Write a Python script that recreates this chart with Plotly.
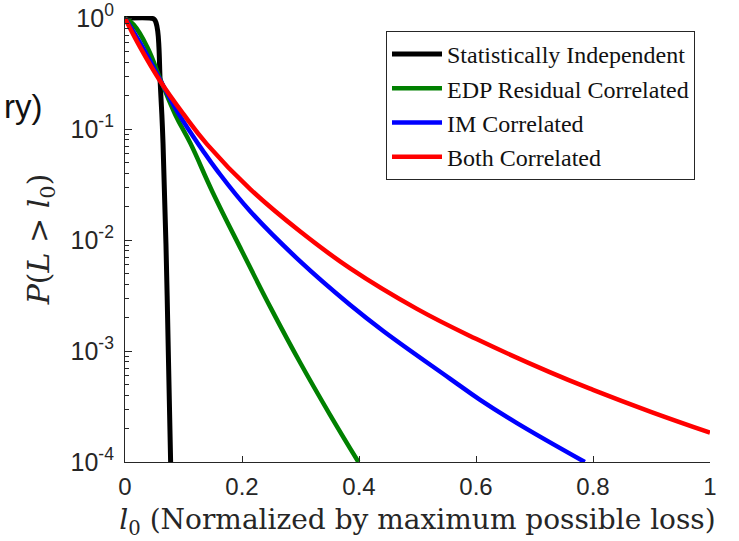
import plotly.graph_objects as go

# ---- data ----
x_indep = [0, 0.045, 0.050, 0.053, 0.056, 0.058, 0.060, 0.063, 0.065, 0.070, 0.074, 0.078]
p_indep = [1, 1, 0.977, 0.912, 0.759, 0.55, 0.275, 0.135, 0.074, 0.0093, 0.001, 0.0001]

x_edp = [0, 0.015, 0.038, 0.062, 0.086, 0.112, 0.15, 0.2, 0.25, 0.3, 0.35, 0.399]
p_edp = [1, 0.871, 0.55, 0.269, 0.135, 0.0741, 0.0269, 0.00794, 0.0024, 0.000776, 0.000269, 0.0001]

x_im = [0, 0.030, 0.061, 0.092, 0.132, 0.157, 0.214, 0.299, 0.385, 0.442, 0.556, 0.607, 0.670, 0.786]
p_im = [1, 0.55, 0.272, 0.1365, 0.0653, 0.0427, 0.0182, 0.00646, 0.0026, 0.00151, 0.000562, 0.000363, 0.000224, 0.0001]

x_both = [0, 0.026, 0.060, 0.100, 0.140, 0.214, 0.299, 0.385, 0.499, 0.6, 0.726, 0.8, 0.9, 1.0]
p_both = [1, 0.545, 0.272, 0.1365, 0.0733, 0.0288, 0.0120, 0.00556, 0.0024, 0.00129, 0.000646, 0.000447, 0.000282, 0.000184]

series_names = ["Statistically Independent", "EDP Residual Correlated", "IM Correlated", "Both Correlated"]
series_colors = ["#000000", "#008000", "#0000FF", "#FF0000"]

x_ticks = [0, 0.2, 0.4, 0.6, 0.8, 1]
x_ticklabels = ["0", "0.2", "0.4", "0.6", "0.8", "1"]
y_ticks = [1e-4, 1e-3, 1e-2, 1e-1, 1]
y_ticklabels = ["10<sup>-4</sup>", "10<sup>-3</sup>", "10<sup>-2</sup>", "10<sup>-1</sup>", "10<sup>0</sup>"]
y_minor = [m * 10 ** e for e in range(-4, 0) for m in range(2, 10)]

fig = go.Figure()
all_x = [x_indep, x_edp, x_im, x_both]
all_p = [p_indep, p_edp, p_im, p_both]
widths = [5, 4.5, 4.5, 4.5]
for i, (xs, ps) in enumerate(zip(all_x, all_p)):
    fig.add_trace(go.Scatter(
        x=xs, y=ps, mode="lines", name=series_names[i],
        line=dict(color=series_colors[i], width=widths[i], shape="spline", smoothing=1.2),
        legendgroup=f"g{i}",
    ))

W, H = 739, 541
# plot area in page coordinates (body margin removed by post_script)
X0, X1, Y0, Y1 = 125, 710, 16, 462
PL, PT = X0, Y0
PR, PB = W - X1, H - Y1
pw, ph = X1 - X0, Y1 - Y0


def px(xp):
    return (xp - X0) / pw


def py(yp):
    return (Y1 - yp) / ph


axis_color = "#262626"
fig.update_layout(
    width=W, height=H,
    margin=dict(l=PL, r=PR, t=PT, b=PB, autoexpand=False),
    paper_bgcolor="white", plot_bgcolor="white",
    showlegend=True,
    legend=dict(
        x=px(386), y=py(31), xanchor="left", yanchor="top",
        bordercolor="#262626", borderwidth=1, bgcolor="white",
        font=dict(family="Liberation Serif", size=24, color="#111"),
        tracegroupgap=0,
        itemwidth=50,
    ),
    annotations=[dict(
        text="ry)", xref="paper", yref="paper",
        x=px(44), xanchor="right",
        y=py(106), yanchor="middle",
        showarrow=False,
        font=dict(family="Liberation Sans", size=33, color="#111"),
    )],
)

fig.update_xaxes(
    range=[0, 1], tickvals=x_ticks, ticktext=x_ticklabels,
    automargin=False,
    showline=True, linecolor=axis_color, linewidth=1.2,
    ticks="inside", ticklen=6, tickcolor=axis_color,
    ticklabelstandoff=3,
    showgrid=False, zeroline=False, mirror=False,
    tickfont=dict(family="Liberation Sans", size=24, color="#262626"),
    title=dict(text="<i>l</i><sub>0</sub> (Normalized by maximum possible loss)",
               font=dict(family="DejaVu Serif", size=28, color="#262626"), standoff=10),
)
fig.update_yaxes(
    type="log", range=[-4, 0.02],
    tickvals=y_ticks, ticktext=y_ticklabels,
    automargin=False,
    ticklabeloverflow="allow",
    showline=True, linecolor=axis_color, linewidth=1.2,
    ticks="inside", ticklen=7, tickcolor=axis_color,
    ticklabelstandoff=5,
    minor=dict(tickmode="array", tickvals=y_minor, ticks="inside", ticklen=4, tickcolor=axis_color, showgrid=False),
    showgrid=False, zeroline=False, mirror=False,
    tickfont=dict(family="Liberation Sans", size=25, color="#262626"),
    title=dict(text="<i>P</i>(<i>L</i> > <i>l</i><sub>0</sub>)",
               font=dict(family="DejaVu Serif", size=30, color="#262626"), standoff=12),
)

fig.write_html("out.html", config={"displayModeBar": False},
               post_script="document.body.style.margin='0';document.body.style.overflow='hidden';")
